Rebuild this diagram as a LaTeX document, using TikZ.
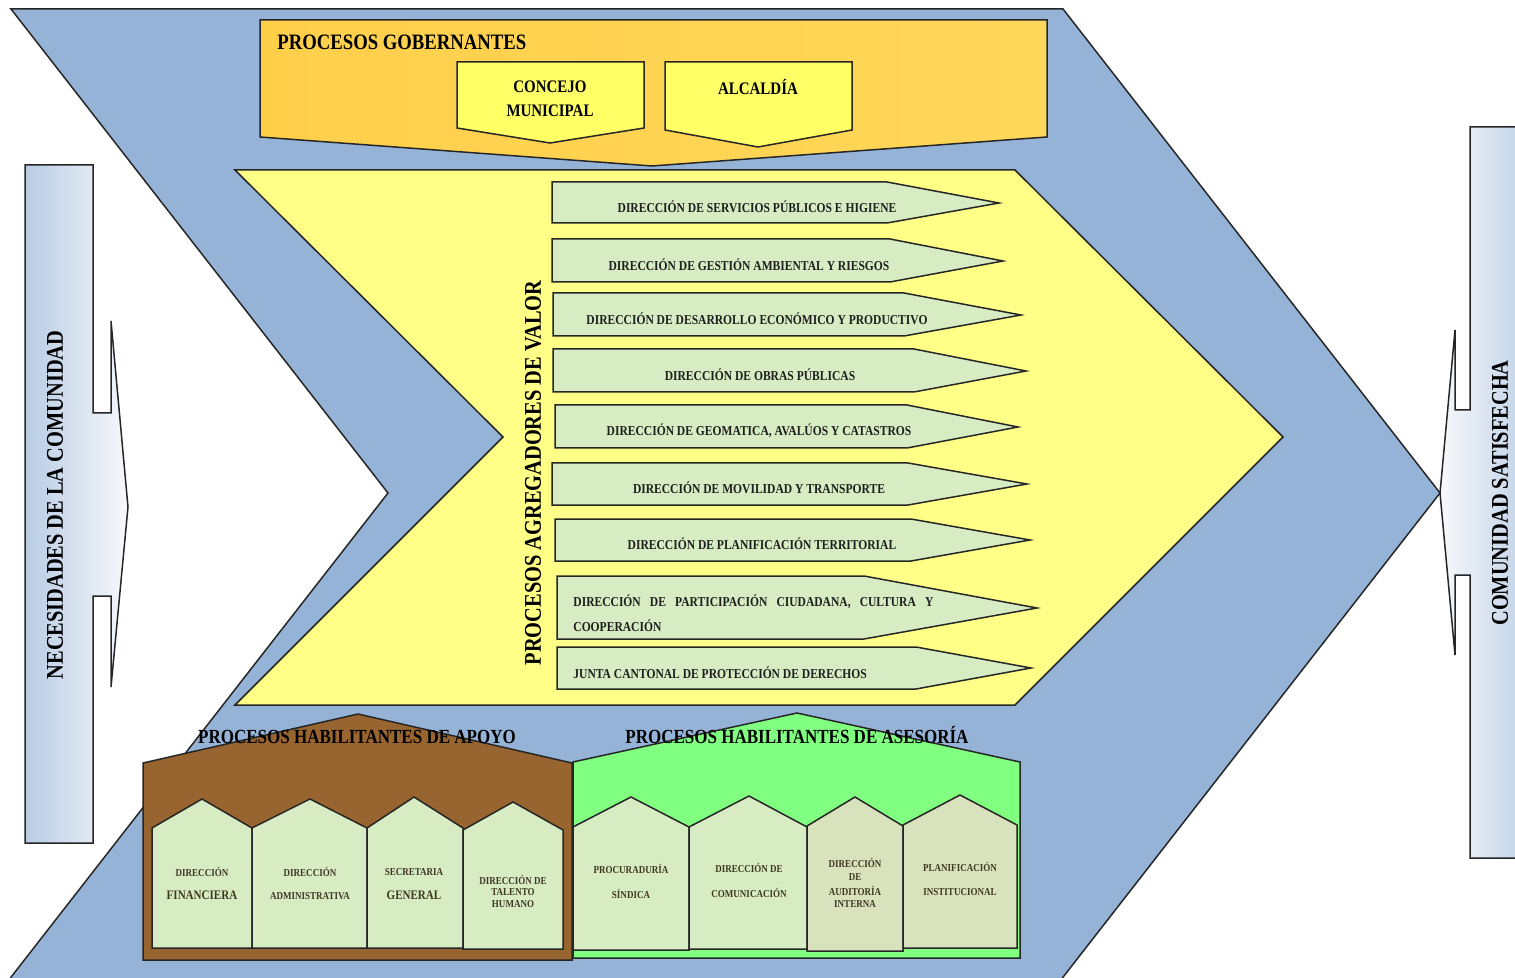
\documentclass[tikz,border=0pt]{standalone}
\usepackage{fontspec}
\setmainfont{Liberation Serif}[FakeStretch=0.85]
\definecolor{chev}{HTML}{95B3D7}
\definecolor{callA}{HTML}{B8CCE4}
\definecolor{callB}{HTML}{F7F9FC}
\definecolor{orA}{HTML}{FFCF4A}
\definecolor{orB}{HTML}{FFD75A}
\definecolor{yel}{HTML}{FFFF66}
\definecolor{lyel}{HTML}{FFFF88}
\definecolor{lgreen}{HTML}{D7ECC2}
\definecolor{ggreen}{HTML}{D8E2BC}
\definecolor{brown}{HTML}{98642F}
\definecolor{bgreen}{HTML}{80FF80}
\definecolor{htext}{HTML}{3F3820}
\definecolor{atext}{HTML}{1E1E1E}
\newcommand\garrow[6]{\draw[ln, fill=lgreen] (#1,#2) -- (#4,#2) -- (#5,#6) -- (#4,#3) -- (#1,#3) -- cycle;}
\newcommand\hhouse[7]{\draw[ln, fill=#7] (#1,#6) -- (#1,#3) -- (#4,#5) -- (#2,#3) -- (#2,#6) -- cycle;}
\tikzset{
  ln/.style={draw=black!85, line width=0.75pt, line join=miter},
  arrtxt/.style={inner sep=0pt, text=atext, font=\fontsize{6.8}{8}\selectfont\bfseries},
  htxt/.style={inner sep=0pt, text=htext, font=\fontsize{5.3}{6.2}\selectfont\bfseries},
  hbig/.style={inner sep=0pt, text=htext, font=\fontsize{6.5}{7.5}\selectfont\bfseries},
  title/.style={inner sep=0pt, text=black, font=\fontsize{10}{12}\selectfont\bfseries},
  vtitle/.style={inner sep=0pt, text=black, rotate=90, font=\fontsize{12}{14}\selectfont\bfseries},
  gov/.style={inner sep=0pt, text=black, font=\fontsize{8.8}{10}\selectfont\bfseries}
}
\begin{document}
\begin{tikzpicture}[x=0.5pt,y=-0.5pt]
\useasboundingbox (0,0) rectangle (1515,978);
% big blue chevron
\draw[ln, fill=chev] (11,9) -- (1063,9) -- (1440,493) -- (1053,990) -- (1,990) -- (388,493) -- cycle;
% left callout
\draw[ln, left color=callA, right color=callB] (25,165) -- (93,165) -- (93,413) -- (111,413) -- (111,321) -- (128,507) -- (111,687) -- (111,596) -- (93,596) -- (93,843) -- (25,843) -- cycle;
% right callout
\draw[ln, left color=callB, right color=callA] (1540,127) -- (1470,127) -- (1470,410) -- (1455,410) -- (1455,330) -- (1440,493) -- (1455,655) -- (1455,575) -- (1470,575) -- (1470,858) -- (1540,858) -- cycle;
\node[vtitle] (nec) at (55,505) {NECESIDADES DE LA COMUNIDAD};
\node[vtitle] (sat) at (1500,493) {COMUNIDAD SATISFECHA};
% governing processes
\draw[ln, left color=orA, right color=orB] (260,20) -- (1047,20) -- (1047,137) -- (652,166) -- (260,137) -- cycle;
\node[inner sep=0pt, anchor=west, font=\fontsize{11}{13}\selectfont\bfseries] (gob) at (277,42) {PROCESOS GOBERNANTES};
\draw[ln, fill=yel] (457,62) -- (644,62) -- (644,128) -- (550,143) -- (457,128) -- cycle;
\draw[ln, fill=yel] (665,62) -- (852,62) -- (852,130) -- (758,147) -- (665,130) -- cycle;
\node[gov] (con1) at (550,87) {CONCEJO};
\node[gov] (con2) at (550,111) {MUNICIPAL};
\node[gov] (alc) at (758,87) {ALCALDÍA};
% value chain chevron
\draw[ln, fill=lyel] (235,170) -- (1015,170) -- (1283,437) -- (1015,705) -- (235,705) -- (503,437) -- cycle;
\node[vtitle] (agr) at (533,473) {PROCESOS AGREGADORES DE VALOR};
\garrow{552}{182}{223}{887}{999}{203}
\garrow{552}{239}{282}{890}{1003}{261}
\garrow{553}{293}{336}{904}{1021}{315}
\garrow{553}{349}{392}{914}{1026}{371}
\garrow{555}{405}{448}{907}{1018}{427}
\garrow{552}{463}{505}{908}{1027}{484}
\garrow{555}{519}{561}{911}{1030}{540}
\garrow{557}{576}{639}{864}{1037}{608}
\garrow{557}{647}{689}{916}{1031}{668}
\node[arrtxt] (v1) at (757,207) {DIRECCIÓN DE SERVICIOS PÚBLICOS E HIGIENE};
\node[arrtxt] (v2) at (749,265) {DIRECCIÓN DE GESTIÓN AMBIENTAL Y RIESGOS};
\node[arrtxt] (v3) at (757,319) {DIRECCIÓN DE DESARROLLO ECONÓMICO Y PRODUCTIVO};
\node[arrtxt] (v4) at (760,375) {DIRECCIÓN DE OBRAS PÚBLICAS};
\node[arrtxt] (v5) at (759,431) {DIRECCIÓN DE GEOMATICA, AVALÚOS Y CATASTROS};
\node[arrtxt] (v6) at (759,488) {DIRECCIÓN DE MOVILIDAD Y TRANSPORTE};
\node[arrtxt] (v7) at (762,544) {DIRECCIÓN DE PLANIFICACIÓN TERRITORIAL};
\node[arrtxt, anchor=west] (v8a) at (573,602) {\makebox[180pt][s]{DIRECCIÓN DE PARTICIPACIÓN CIUDADANA, CULTURA Y}};
\node[arrtxt, anchor=west] (v8b) at (573,626) {COOPERACIÓN};
\node[arrtxt, anchor=west] (v9) at (573,673) {JUNTA CANTONAL DE PROTECCIÓN DE DERECHOS};
% support processes
\draw[ln, fill=brown] (143,960) -- (143,763) -- (358,714) -- (572,763) -- (572,960) -- cycle;
\hhouse{152}{252}{828}{202}{799}{948}{lgreen}
\hhouse{252}{367}{828}{310}{799}{948}{lgreen}
\hhouse{367}{463}{828}{414}{797}{948}{lgreen}
\hhouse{463}{563}{830}{513}{802}{949}{lgreen}
% advisory processes
\draw[ln, fill=bgreen] (573,958) -- (573,762) -- (797,713) -- (1020,762) -- (1020,958) -- cycle;
\hhouse{573}{689}{827}{631}{797}{950}{lgreen}
\hhouse{689}{807}{827}{749}{796}{949}{lgreen}
\hhouse{807}{903}{826}{855}{797}{951}{ggreen}
\hhouse{903}{1017}{825}{960}{795}{948}{ggreen}
\node[title] (apo) at (357,737) {PROCESOS HABILITANTES DE APOYO};
\node[title] (ase) at (797,735) {PROCESOS HABILITANTES DE ASESORÍA};
\node[htxt] (f1) at (202,872) {DIRECCIÓN};
\node[hbig] (f2) at (202,895) {FINANCIERA};
\node[htxt] (d1) at (310,872) {DIRECCIÓN};
\node[htxt] (d2) at (310,896) {ADMINISTRATIVA};
\node[htxt] (s1) at (414,872) {SECRETARIA};
\node[hbig] (s2) at (414,895) {GENERAL};
\node[htxt] (t1) at (513,880) {DIRECCIÓN DE};
\node[htxt] (t2) at (513,892) {TALENTO};
\node[htxt] (t3) at (513,904) {HUMANO};
\node[htxt] (p1) at (631,869) {PROCURADURÍA};
\node[htxt] (p2) at (631,894) {SÍNDICA};
\node[htxt] (c1) at (749,868) {DIRECCIÓN DE};
\node[htxt] (c2) at (749,893) {COMUNICACIÓN};
\node[htxt] (a1) at (855,863) {DIRECCIÓN};
\node[htxt] (a2) at (855,877) {DE};
\node[htxt] (a3) at (855,891) {AUDITORÍA};
\node[htxt] (a4) at (855,904) {INTERNA};
\node[htxt] (i1) at (960,867) {PLANIFICACIÓN};
\node[htxt] (i2) at (960,892) {INSTITUCIONAL};
\end{tikzpicture}
\end{document}
